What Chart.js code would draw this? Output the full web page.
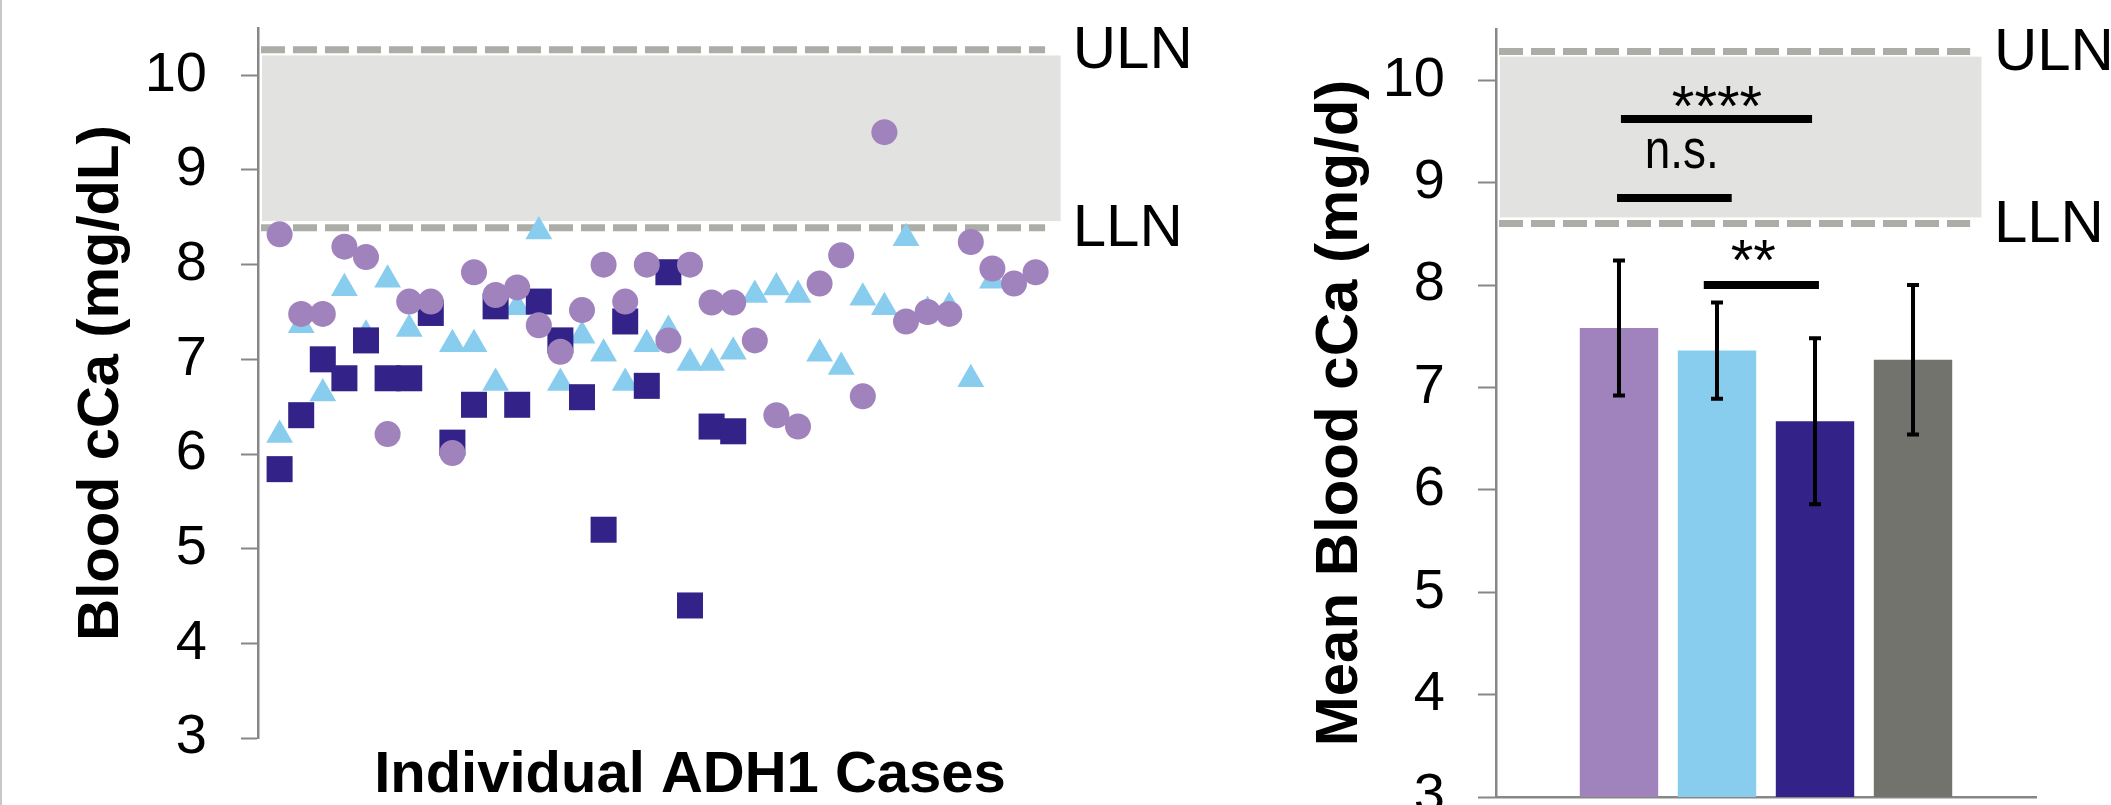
<!DOCTYPE html>
<html>
<head>
<meta charset="utf-8">
<script src="https://cdn.jsdelivr.net/npm/chart.js@4.4.1/dist/chart.umd.min.js"></script>
<style>
  html, body { margin: 0; padding: 0; background: #fff; }
  #wrap { position: relative; width: 2111px; height: 805px; overflow: hidden; }
  #casos { position: absolute; left: 0; top: 0; }
  #medias { position: absolute; left: 1230px; top: 0; }
  #borde { position: absolute; left: 0; top: 0; width: 2px; height: 805px; background: #c8c8c8; }
</style>
</head>
<body>
<div id="wrap">
  <canvas id="casos" width="1230" height="805"></canvas>
  <canvas id="medias" width="881" height="805"></canvas>
  <div id="borde"></div>
</div>
<script>
// panel izquierdo: casos individuales (x = numero de caso)
var circX = [1,2,3,4,5,6,7,8,9,10,11,12,13,14,15,16,17,18,19,20,21,22,23,24,25,26,27,28,29,30,31,32,33,34,35,36];
var circY = [8.32,7.48,7.48,8.19,8.08,6.21,7.61,7.61,6.01,7.92,7.68,7.76,7.36,7.08,7.52,8.00,7.61,8.00,7.20,8.00,
             7.60,7.60,7.20,6.41,6.29,7.80,8.10,6.61,9.40,7.40,7.50,7.48,8.24,7.96,7.80,7.92];
var triX = [1,2,3,4,5,6,7,9,10,11,12,13,14,15,16,17,18,19,20,21,22,23,24,25,26,27,28,29,30,31,32,33,34];
var triY = [6.20,7.36,6.64,7.75,7.26,7.84,7.32,7.16,7.16,6.75,7.55,8.35,6.75,7.25,7.06,6.75,7.16,7.31,6.96,6.96,
            7.08,7.68,7.76,7.68,7.06,6.92,7.65,7.55,8.28,7.51,7.55,6.79,7.83];
var cuadX = [1,2,3,4,5,6,7,8,9,10,11,12,13,14,15,16,17,18,19,20,21,22];
var cuadY = [5.84,6.41,7.00,6.80,7.20,6.80,6.80,7.49,6.12,6.52,7.56,6.52,7.61,7.20,6.60,5.20,7.40,6.72,7.92,4.40,6.29,6.24];

// panel derecho: medias por grupo
var grupos = ['Grupo 1', 'Grupo 2', 'Grupo 3', 'Grupo 4'];
var medias = [7.58, 7.36, 6.67, 7.27];
var desvios = [0.66, 0.47, 0.81, 0.73];

// significancia (posiciones en indice de barra)
var sigTexto = ['****', 'n.s.', '**'];
var sigDesde = [0.02, -0.02, 0.865];
var sigHasta = [1.97, 1.15, 2.04];
var sigNivel = [9.62, 8.85, 8.0];
var sigTextoX = [1.0, 0.64, 1.37];
var sigTextoNivel = [9.55, 9.14, 8.05];

// limites normales
var limitesIzq = [10.27, 8.39];
var bandaIzq = [8.46, 10.21];
var limitesDer = [10.28, 8.60];
var bandaDer = [8.66, 10.23];
var nombresLim = ['ULN', 'LLN'];

var colores = ['#a082bc', '#89cdee', '#332288', '#73736e'];
var gris = '#878787';

Chart.defaults.font.family = "'Liberation Sans', Arial, sans-serif";
Chart.defaults.color = '#000';

function pares(xs, ys) {
  var r = [];
  for (var i = 0; i < xs.length; i++) r.push({x: xs[i], y: ys[i]});
  return r;
}

var rangoNormal = {
  id: 'rangoNormal',
  beforeDatasetsDraw: function(chart, args, o) {
    var ctx = chart.ctx, a = chart.chartArea, y = chart.scales.y;
    var w = a.right - a.left;
    var arriba = y.getPixelForValue(o.banda[1]);
    var abajo = y.getPixelForValue(o.banda[0]);
    ctx.save();
    ctx.fillStyle = '#e2e2e0';
    ctx.fillRect(a.left + 4, arriba, w * o.finBanda - 4, abajo - arriba);
    ctx.strokeStyle = '#adada8';
    ctx.lineWidth = 7;
    ctx.setLineDash([24, 8]);
    o.limites.forEach(function(v) {
      var py = y.getPixelForValue(v);
      ctx.beginPath();
      ctx.moveTo(a.left + 3, py);
      ctx.lineTo(a.left + w * o.finLinea, py);
      ctx.stroke();
    });
    ctx.restore();
  },
  afterDraw: function(chart, args, o) {
    var ctx = chart.ctx, a = chart.chartArea, y = chart.scales.y;
    ctx.save();
    ctx.font = "60px 'Liberation Sans', Arial, sans-serif";
    ctx.fillStyle = '#000';
    ctx.textAlign = 'left';
    ctx.textBaseline = 'middle';
    o.limites.forEach(function(v, i) {
      ctx.fillText(nombresLim[i], a.left + (a.right - a.left) * o.xTexto, y.getPixelForValue(v) + 2);
    });
    ctx.restore();
  }
};

var barrasError = {
  id: 'barrasError',
  afterDatasetsDraw: function(chart) {
    var ctx = chart.ctx, y = chart.scales.y;
    ctx.save();
    ctx.strokeStyle = '#000';
    ctx.lineWidth = 4;
    chart.data.datasets.forEach(function(ds, i) {
      var b = chart.getDatasetMeta(i).data[0];
      var yt = y.getPixelForValue(ds.data[0] + desvios[i]);
      var yb = y.getPixelForValue(ds.data[0] - desvios[i]);
      ctx.beginPath();
      ctx.moveTo(b.x, yt); ctx.lineTo(b.x, yb);
      ctx.moveTo(b.x - 6, yt); ctx.lineTo(b.x + 6, yt);
      ctx.moveTo(b.x - 6, yb); ctx.lineTo(b.x + 6, yb);
      ctx.stroke();
    });

    // lineas de significancia
    var x0 = chart.getDatasetMeta(0).data[0].x;
    var paso = chart.getDatasetMeta(1).data[0].x - x0;
    ctx.lineWidth = 8;
    ctx.fillStyle = '#000';
    ctx.textAlign = 'center';
    ctx.textBaseline = 'alphabetic';
    for (var k = 0; k < sigTexto.length; k++) {
      var py = y.getPixelForValue(sigNivel[k]);
      ctx.beginPath();
      ctx.moveTo(x0 + sigDesde[k] * paso, py);
      ctx.lineTo(x0 + sigHasta[k] * paso, py);
      ctx.stroke();
      var tx = x0 + sigTextoX[k] * paso, ty = y.getPixelForValue(sigTextoNivel[k]);
      ctx.save();
      ctx.translate(tx, ty);
      if (sigTexto[k] == 'n.s.') {
        ctx.scale(0.82, 1);
        ctx.font = "56px 'Liberation Sans', Arial, sans-serif";
      } else {
        ctx.font = "58px 'Liberation Sans', Arial, sans-serif";
      }
      ctx.fillText(sigTexto[k], 0, 0);
      ctx.restore();
    }
    ctx.restore();
  }
};

function soloEnteros(s) {
  s.ticks = s.ticks.filter(function(t) { return Number.isInteger(t.value); });
}

new Chart(document.getElementById('casos'), {
  type: 'scatter',
  data: {
    datasets: [
      { label: 'circulos', data: pares(circX, circY), pointStyle: 'circle', pointRadius: 13,
        backgroundColor: colores[0], borderWidth: 0 },
      { label: 'cuadrados', data: pares(cuadX, cuadY), pointStyle: 'rect', pointRadius: 18.4,
        backgroundColor: colores[2], borderWidth: 0 },
      { label: 'triangulos', data: pares(triX, triY), pointStyle: 'triangle', pointRadius: 15.5,
        backgroundColor: colores[1], borderWidth: 0 }
    ]
  },
  options: {
    responsive: false,
    animation: false,
    layout: { padding: { top: 28, right: 108, left: 0, bottom: 0 } },
    plugins: {
      legend: { display: false },
      tooltip: { enabled: false },
      rangoNormal: { limites: limitesIzq, banda: bandaIzq, finBanda: 0.929, finLinea: 0.911, xTexto: 0.943 }
    },
    scales: {
      x: {
        type: 'linear', min: 0, max: 40,
        grid: { display: false }, border: { display: false }, ticks: { display: false },
        title: { display: true, text: 'Individual ADH1 Cases', padding: 0,
                 font: { size: 58, weight: 'bold', lineHeight: 1 } },
        afterFit: function(s) { s.height = 67; }
      },
      y: {
        min: 3, max: 10.5,
        ticks: { stepSize: 1, padding: 34, includeBounds: false, font: { size: 56 } },
        afterBuildTicks: soloEnteros,
        grid: { drawOnChartArea: false, tickLength: 17, tickColor: gris, tickWidth: 2 },
        border: { color: gris, width: 2.5 },
        title: { display: true, text: 'Blood cCa (mg/dL)', padding: { top: 73, bottom: 0 },
                 font: { size: 58, weight: 'bold', lineHeight: 1 } },
        afterFit: function(s) { s.width = 258; s.paddingTop = 0; s.paddingBottom = 0; }
      }
    }
  },
  plugins: [rangoNormal]
});

var dsBarras = [];
for (var i = 0; i < grupos.length; i++) {
  dsBarras.push({ label: grupos[i], data: [medias[i]], backgroundColor: colores[i], borderWidth: 0,
                  categoryPercentage: 0.726, barPercentage: 0.8 });
}

new Chart(document.getElementById('medias'), {
  type: 'bar',
  data: { labels: [''], datasets: dsBarras },
  options: {
    responsive: false,
    animation: false,
    layout: { padding: { top: 29, right: 75, left: 0, bottom: 0 } },
    plugins: {
      legend: { display: false },
      tooltip: { enabled: false },
      rangoNormal: { limites: limitesDer, banda: bandaDer, finBanda: 0.899, finLinea: 0.878, xTexto: 0.922 }
    },
    scales: {
      x: {
        grid: { display: false }, ticks: { display: false },
        border: { color: gris, width: 2.5 },
        afterFit: function(s) { s.height = 8; }
      },
      y: {
        min: 3, max: 10.5,
        ticks: { stepSize: 1, padding: 33, includeBounds: false, font: { size: 56 } },
        afterBuildTicks: soloEnteros,
        grid: { drawOnChartArea: false, tickLength: 18, tickColor: gris, tickWidth: 2 },
        border: { color: gris, width: 2.5 },
        title: { display: true, text: 'Mean Blood cCa (mg/d)', padding: { top: 80, bottom: 0 },
                 font: { size: 60, weight: 'bold', lineHeight: 1 } },
        afterFit: function(s) { s.width = 266; s.paddingTop = 0; s.paddingBottom = 0; }
      }
    }
  },
  plugins: [rangoNormal, barrasError]
});
</script>
</body>
</html>
